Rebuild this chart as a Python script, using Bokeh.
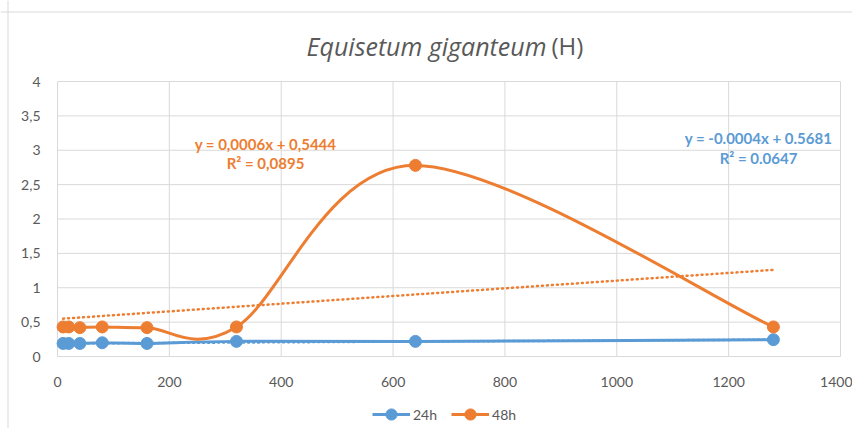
from bokeh.plotting import figure
from bokeh.models import Label, Legend, LegendItem, FixedTicker, Range1d, Span
from bokeh.embed import file_html
from bokeh.resources import INLINE

# ---- data ----
conc = [10, 20, 40, 80, 160, 320, 640, 1280]
h24 = [0.19, 0.19, 0.19, 0.20, 0.19, 0.22, 0.22, 0.245]
h48 = [0.43, 0.43, 0.42, 0.43, 0.42, 0.43, 2.78, 0.43]
trend_x = [10, 1280]
trend24 = [0.19, 0.245]
trend48 = [0.55, 1.26]
x_ticks = [0, 200, 400, 600, 800, 1000, 1200, 1400]
y_ticks = [0, 0.5, 1, 1.5, 2, 2.5, 3, 3.5, 4]
y_tick_labels = ["0", "0,5", "1", "1,5", "2", "2,5", "3", "3,5", "4"]
title_italic = "Equisetum giganteum"
title_rest = "(H)"
eq48 = ["y = 0,0006x + 0,5444", "R² = 0,0895"]
eq24 = ["y = -0.0004x + 0.5681", "R² = 0.0647"]

BLUE = "#5b9bd5"
ORANGE = "#ed7d31"
GREY = "#595959"
GRID = "#d9d9d9"
FONT = "Lato"
TFONT = "Open Sans"

W, H = 852, 428
# plot geometry (pixels): x=0 at 57, x=1400 at 840; y=0 at 356, y=4 at 81
sx = (840 - 57) / 1400.0
sy = (356 - 81) / 4.0
x0 = -57 / sx
x1 = (W - 57) / sx
y1 = 356 / sy
y0 = (356 - H) / sy

p = figure(width=W, height=H, output_backend="svg", toolbar_location=None,
           x_range=Range1d(x0, x1), y_range=Range1d(y0, y1), min_border=0)
p.outline_line_color = None
p.border_fill_color = "white"
p.xgrid.visible = False
p.ygrid.visible = False

# chart border (left / top, as in the reference)
p.add_layout(Span(location=(7.5 - 57) / sx, dimension="height", line_color=GRID, line_width=1))
p.add_layout(Span(location=(356 - 11.5) / sy, dimension="width", line_color=GRID, line_width=1))

# grid lines drawn only over the plot area
p.segment(x0=x_ticks, y0=[y_ticks[0]] * len(x_ticks), x1=x_ticks, y1=[y_ticks[-1]] * len(x_ticks),
          line_color=GRID, line_width=1)
p.segment(x0=[x_ticks[0]] * len(y_ticks), y0=y_ticks, x1=[x_ticks[-1]] * len(y_ticks), y1=y_ticks,
          line_color=GRID, line_width=1)

p.xaxis.fixed_location = 0
p.yaxis.fixed_location = 0
p.xaxis.bounds = (x_ticks[0], x_ticks[-1])
p.yaxis.bounds = (y_ticks[0], y_ticks[-1])
p.xaxis.ticker = FixedTicker(ticks=x_ticks)
p.yaxis.ticker = FixedTicker(ticks=y_ticks)
p.yaxis.major_label_overrides = {t: l for t, l in zip(y_ticks, y_tick_labels)}
for ax in (p.xaxis, p.yaxis):
    ax.major_tick_line_color = None
    ax.minor_tick_line_color = None
    ax.major_label_text_color = GREY
    ax.major_label_text_font = FONT
    ax.major_label_text_font_size = "14px"
p.xaxis.axis_line_color = GRID
p.yaxis.axis_line_color = None
p.xaxis.major_label_standoff = 14
p.yaxis.major_label_standoff = 11


def smooth(xs, ys):
    """Bezier control points for an Excel-like smoothed line."""
    n = len(xs)
    out = {k: [] for k in ("x0", "y0", "x1", "y1", "cx0", "cy0", "cx1", "cy1")}
    for i in range(n - 1):
        a = (xs[max(i - 1, 0)], ys[max(i - 1, 0)])
        b = (xs[i], ys[i])
        c = (xs[i + 1], ys[i + 1])
        d = (xs[min(i + 2, n - 1)], ys[min(i + 2, n - 1)])
        out["x0"].append(b[0]); out["y0"].append(b[1])
        out["x1"].append(c[0]); out["y1"].append(c[1])
        out["cx0"].append(b[0] + (c[0] - a[0]) / 6)
        out["cy0"].append(b[1] + (c[1] - a[1]) / 6)
        out["cx1"].append(c[0] - (d[0] - b[0]) / 6)
        out["cy1"].append(c[1] - (d[1] - b[1]) / 6)
    return out

# trendlines
p.line(trend_x, trend48, line_color=ORANGE, line_width=2.5, line_dash="1 4", line_cap="round")
p.line(trend_x, trend24, line_color=BLUE, line_width=2.5, line_dash="1 4", line_cap="round")

p.bezier(line_color=BLUE, line_width=3, **smooth(conc, h24))
p.bezier(line_color=ORANGE, line_width=3, **smooth(conc, h48))
s24 = p.scatter(conc, h24, size=12, fill_color=BLUE, line_color=BLUE)
s48 = p.scatter(conc, h48, size=12, fill_color=ORANGE, line_color=ORANGE)

# legend proxies
l24 = p.line([None], [None], line_color=BLUE, line_width=3)
l48 = p.line([None], [None], line_color=ORANGE, line_width=3)
legend = Legend(items=[LegendItem(label="24h", renderers=[l24, s24]),
                       LegendItem(label="48h", renderers=[l48, s48])],
                orientation="horizontal", location=(372, 0),
                label_text_color=GREY, label_text_font=FONT, label_text_font_size="14px",
                background_fill_alpha=0, border_line_color=None,
                glyph_width=38, glyph_height=28, label_height=28,
                spacing=14, label_standoff=3, padding=0, margin=0)
p.add_layout(legend, "center")

# title
TY = (356 - 45) / sy
p.add_layout(Label(x=(546 - 57) / sx, y=TY, text=title_italic, text_font=TFONT, text_font_style="italic",
                   text_font_size="25px", text_color=GREY, text_align="right", text_baseline="middle"))
p.add_layout(Label(x=(551 - 57) / sx, y=TY, text=title_rest, text_font=TFONT,
                   text_font_size="24px", text_color=GREY, text_align="left", text_baseline="middle"))

# trendline equations
for txt, xp, yp, col in [(eq48[0], 265, 143, ORANGE), (eq48[1], 265, 162, ORANGE),
                         (eq24[0], 758, 137, BLUE), (eq24[1], 758, 157, BLUE)]:
    p.add_layout(Label(x=(xp - 57) / sx, y=(356 - yp) / sy, text=txt, text_font=FONT,
                       text_font_style="bold", text_font_size="15px", text_color=col,
                       text_align="center", text_baseline="middle"))

open("out.html", "w").write(file_html(p, INLINE))
